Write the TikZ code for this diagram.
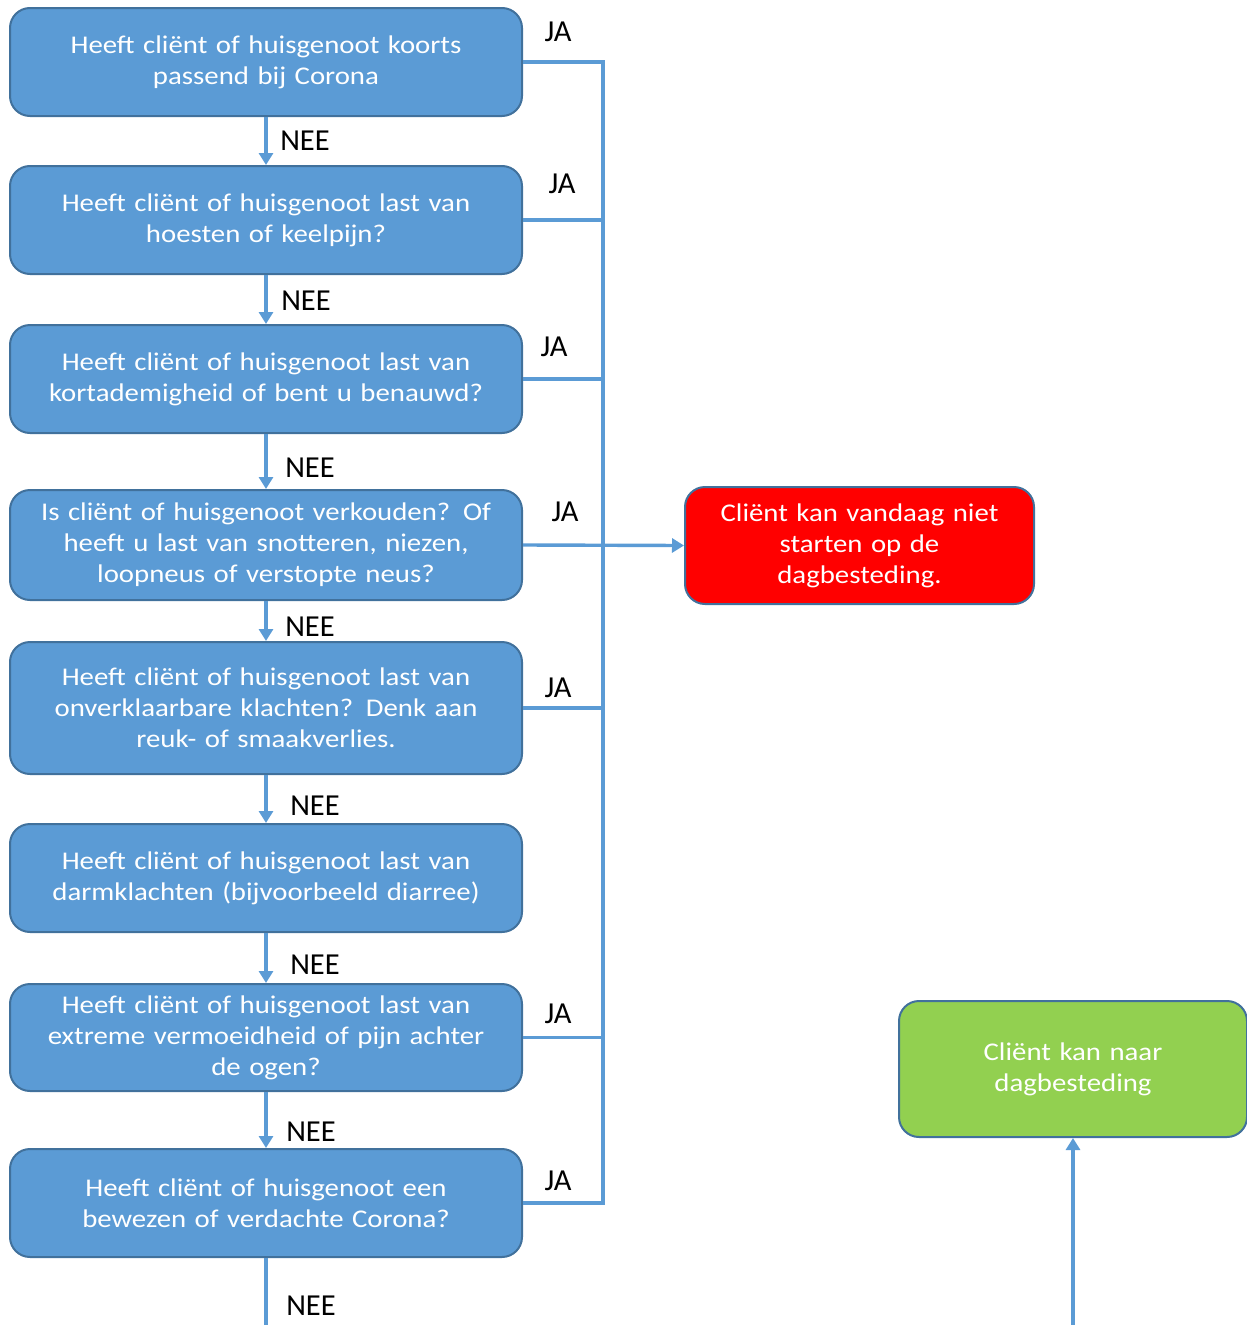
\documentclass[tikz,border=0pt]{standalone}
\usepackage{fontspec}
\usepackage{tikz}
\usetikzlibrary{arrows.meta}
\setmainfont{Carlito}
\newfontfamily\boxfont[FakeStretch=1.13]{Carlito}
\definecolor{boxblue}{HTML}{5B9BD5}
\definecolor{boxline}{HTML}{41719C}
\definecolor{stopred}{HTML}{FF0000}
\definecolor{gogreen}{HTML}{92D050}
\tikzset{
  qbox/.style={draw=boxline,fill=boxblue,line width=2pt,rounded corners=20pt,
    minimum width=512pt,text width=500pt,align=center,text=white,
    font=\boxfont\fontsize{25.5}{31}\selectfont,inner sep=0pt},
  lbl/.style={font=\fontsize{30.5}{32}\selectfont,text=black,inner sep=0pt},
  flow/.style={draw=boxblue,line width=3.4pt},
  arr/.style={flow,-{Triangle[length=12pt,width=14pt]}}
}
\begin{document}
\begin{tikzpicture}[x=1pt,y=-1pt]
        \useasboundingbox (0,0) rectangle (1247,1325);
        \node[qbox,minimum height=108pt](q1) at (266,62) {Heeft cliënt of huisgenoot koorts\\passend bij Corona};
        \node[qbox,minimum height=108pt](q2) at (266,220) {Heeft cliënt of huisgenoot last van\\hoesten of keelpijn?};
        \node[qbox,minimum height=108pt](q3) at (266,379) {Heeft cliënt of huisgenoot last van\\kortademigheid of bent u benauwd?};
        \node[qbox,minimum height=110pt](q4) at (266,545) {Is cliënt of huisgenoot verkouden? Of\\heeft u last van snotteren, niezen,\\loopneus of verstopte neus?};
        \node[qbox,minimum height=132pt](q5) at (266,708) {Heeft cliënt of huisgenoot last van\\onverklaarbare klachten? Denk aan\\reuk- of smaakverlies.};
        \node[qbox,minimum height=108pt](q6) at (266,878) {Heeft cliënt of huisgenoot last van\\darmklachten (bijvoorbeeld diarree)};
        \node[qbox,minimum height=107pt](q7) at (266,1037.5) {Heeft cliënt of huisgenoot last van\\extreme vermoeidheid of pijn achter\\de ogen?};
        \node[qbox,minimum height=108pt](q8) at (266,1203) {Heeft cliënt of huisgenoot een\\bewezen of verdachte Corona?};
        \node[qbox,fill=stopred,minimum width=349pt,text width=330pt,minimum height=117pt](stop) at (859.5,545.5) {Cliënt kan vandaag niet\\starten op de\\dagbesteding.};
        \node[qbox,fill=gogreen,minimum width=348pt,text width=330pt,minimum height=136pt](go) at (1073,1069) {Cliënt kan naar\\dagbesteding\\[4pt]};
        \coordinate (bustop) at (603,62);
        \coordinate (neeend) at (266,1325);
        \coordinate (gostart) at (1073,1325);
        \draw[arr](q1.south)--(q2.north);
        \draw[arr](q2.south)--(q3.north);
        \draw[arr](q3.south)--(q4.north);
        \draw[arr](q4.south)--(q5.north);
        \draw[arr](q5.south)--(q6.north);
        \draw[arr](q6.south)--(q7.north);
        \draw[arr](q7.south)--(q8.north);
        \draw[flow](q8.south)--(neeend);
        \draw[flow](q1.east)--(bustop)|-(q8.east);
        \draw[flow](q2.east)--(q2.east-|bustop);
        \draw[flow](q3.east)--(q3.east-|bustop);
        \draw[flow](q5.east)--(q5.east-|bustop);
        \draw[flow](q7.east)--(q7.east-|bustop);
        \draw[arr](q4.east)--(stop.west);
        \draw[arr](gostart)--(go.south);
        \node[lbl](ja1) at (558,32) {JA};
        \node[lbl](ja2) at (562,184) {JA};
        \node[lbl](ja3) at (554,347) {JA};
        \node[lbl](ja4) at (565,512) {JA};
        \node[lbl](ja5) at (558,688) {JA};
        \node[lbl](ja7) at (558,1014) {JA};
        \node[lbl](ja8) at (558,1181) {JA};
        \node[lbl](nee1) at (305,141) {NEE};
        \node[lbl](nee2) at (306,301) {NEE};
        \node[lbl](nee3) at (310,468) {NEE};
        \node[lbl](nee4) at (310,627) {NEE};
        \node[lbl](nee5) at (315,806) {NEE};
        \node[lbl](nee6) at (315,965) {NEE};
        \node[lbl](nee7) at (311,1132) {NEE};
        \node[lbl](nee8) at (311,1306) {NEE};
\end{tikzpicture}
\end{document}
